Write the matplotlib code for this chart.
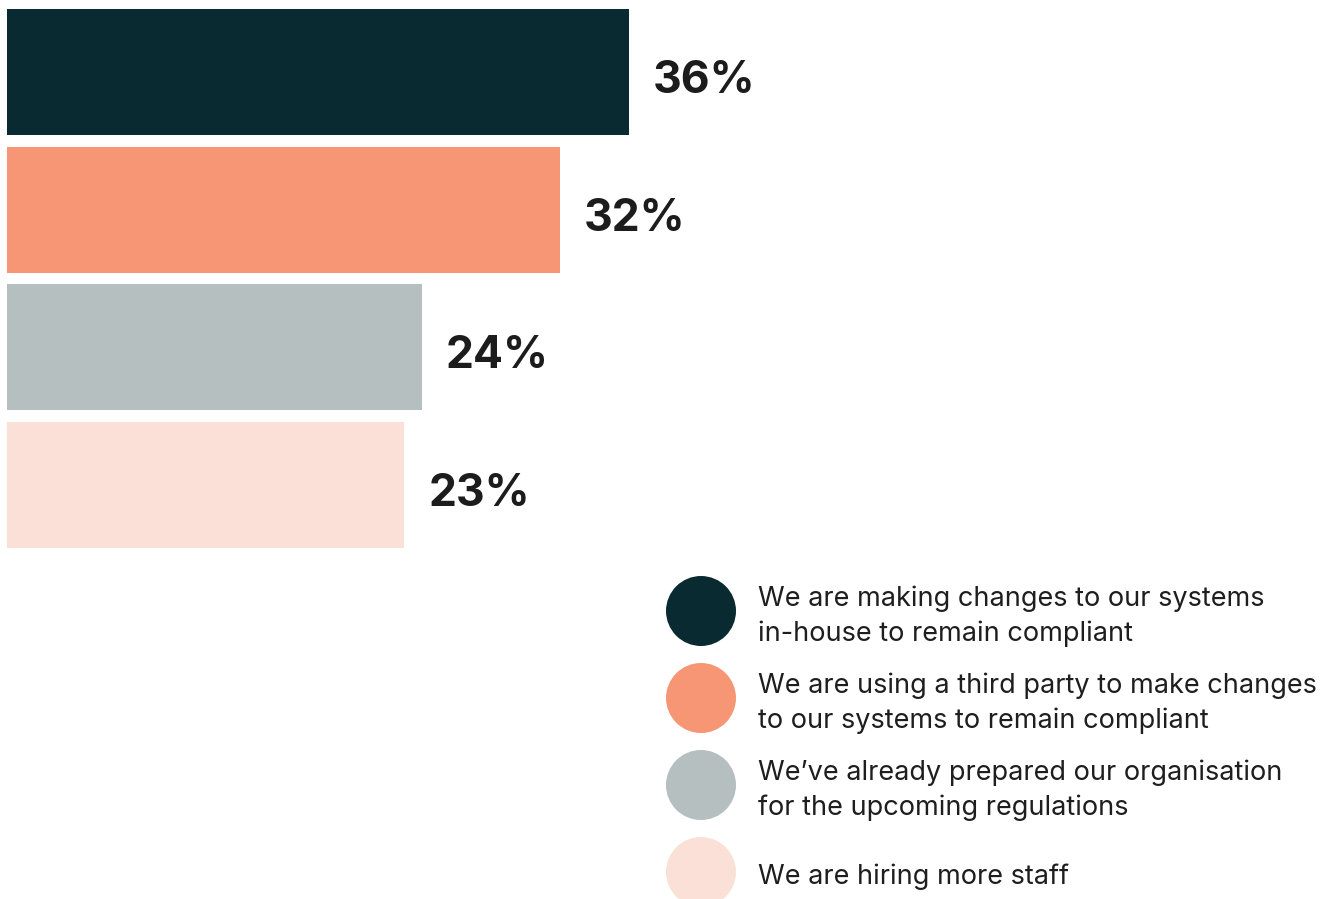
import matplotlib
matplotlib.use("Agg")
from matplotlib import pyplot as plt
from matplotlib.patches import Circle

plt.rcParams['font.family'] = ['Inter', 'DejaVu Sans']

# data
answers = [
    "We are making changes to our systems\nin-house to remain compliant",
    "We are using a third party to make changes\nto our systems to remain compliant",
    "We\u2019ve already prepared our organisation\nfor the upcoming regulations",
    "We are hiring more staff",
]
values = [36, 32, 24, 23]
colors = ["#0a2a32", "#f79674", "#b5bfbf", "#fae0d6"]

W, H = 1339, 899
fig = plt.figure(figsize=(W / 100, H / 100), dpi=100)
fig.patch.set_facecolor("white")

# bar axes, in pixel layout
left_px, top_px, bottom_px = 7, 9, 548
ax = fig.add_axes([left_px / W, 1 - bottom_px / H, (W - left_px) / W, (bottom_px - top_px) / H])
px_per_pct = 17.28
bh = 0.915
ypos = list(range(len(values)))
ax.barh(ypos, values, height=bh, color=colors)
ax.set_xlim(0, (W - left_px) / px_per_pct)
ax.set_ylim(len(values) - 1 + bh / 2, -bh / 2)
ax.axis("off")

for y, v in zip(ypos, values):
    ax.annotate(f"{v}%", (v, y), xytext=(24, -9), textcoords="offset pixels",
                ha="left", va="center", fontsize=32, fontweight="bold", color="#1c1c1c")

# legend drawn in pixel coordinates
lax = fig.add_axes([0, 0, 1, 1])
lax.set_xlim(0, W)
lax.set_ylim(H, 0)
lax.axis("off")
for i, (lab, c) in enumerate(zip(answers, colors)):
    cy = 611 + i * 87
    lax.add_patch(Circle((701, cy), 35, color=c, lw=0))
    lax.text(758, cy + 5, lab, ha="left", va="center", fontsize=19.5,
             color="#1e1e1e", linespacing=1.4)

fig.savefig("out.png", dpi=100)
